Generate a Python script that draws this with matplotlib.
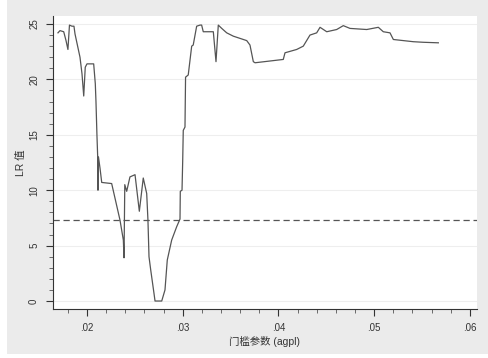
import matplotlib
matplotlib.use("Agg")
import matplotlib.pyplot as plt
from matplotlib.patches import Rectangle
from matplotlib.ticker import MultipleLocator, FixedLocator

plt.rcParams['font.family'] = ['Liberation Sans', 'Noto Sans CJK SC', 'DejaVu Sans']

# threshold parameter values and LR statistics
threshold = [0.01697, 0.01718, 0.01757, 0.01781, 0.01801, 0.01817, 0.01843, 0.01864, 0.01875,
             0.01927, 0.01948, 0.01966, 0.01982, 0.02000, 0.02070, 0.02087, 0.02094, 0.02104,
             0.02112, 0.02115, 0.02120, 0.02136, 0.02154, 0.02258, 0.02345, 0.02380, 0.02387,
             0.02395, 0.02415, 0.02449, 0.02502, 0.02547, 0.02588, 0.02624, 0.02637, 0.02648,
             0.02666, 0.02700, 0.02711, 0.02781, 0.02815, 0.02839, 0.02885, 0.02937, 0.02972,
             0.02975, 0.02993, 0.03000, 0.03006, 0.03024, 0.03030, 0.03058, 0.03094, 0.03110,
             0.03146, 0.03181, 0.03198, 0.03215, 0.03320, 0.03348, 0.03372, 0.03408, 0.03460,
             0.03529, 0.03599, 0.03669, 0.03703, 0.03738, 0.03756, 0.04051, 0.04069, 0.04191,
             0.04260, 0.04330, 0.04400, 0.04435, 0.04505, 0.04609, 0.04678, 0.04748, 0.04923,
             0.05044, 0.05096, 0.05166, 0.05201, 0.05410, 0.05511, 0.05671]
lr_stat = [24.2, 24.4, 24.3, 23.5, 22.7, 24.9, 24.8, 24.8, 24.1,
           22.0, 20.5, 18.5, 21.1, 21.4, 21.4, 19.6, 18.0, 15.0,
           13.0, 10.0, 13.0, 12.0, 10.7, 10.6, 7.3, 5.5, 3.9,
           10.5, 9.9, 11.2, 11.4, 8.1, 11.1, 9.7, 7.3, 4.0,
           2.8, 0.7, 0.0, 0.0, 1.0, 3.7, 5.5, 6.7, 7.4,
           9.9, 10.0, 12.6, 15.4, 15.7, 20.2, 20.4, 23.0, 23.1,
           24.8, 24.9, 24.9, 24.3, 24.3, 21.6, 24.9, 24.6, 24.2,
           23.9, 23.7, 23.5, 23.1, 21.6, 21.5, 21.8, 22.4, 22.7,
           23.0, 24.0, 24.2, 24.7, 24.3, 24.5, 24.85, 24.6, 24.5,
           24.7, 24.3, 24.2, 23.6, 23.4, 23.35, 23.3]
critical_value = 7.35
x_ticks = [0.02, 0.03, 0.04, 0.05, 0.06]
x_tick_labels = ['.02', '.03', '.04', '.05', '.06']
y_ticks = [0, 5, 10, 15, 20, 25]

W, H = 489, 358
fig = plt.figure(figsize=(W / 100, H / 100), dpi=100, facecolor='white')
fig.patches.append(Rectangle((7 / W, 4 / H), 1 - 7 / W, 1 - 4 / H, transform=fig.transFigure,
                             facecolor='#ebebeb', edgecolor='none', zorder=-10))

ax = fig.add_axes([53 / W, 1 - 309 / H, (477 - 53) / W, (309 - 16) / H])
ax.set_facecolor('white')

ax.plot(threshold, lr_stat, color='#555555', lw=0.9)
ax.axhline(critical_value, color='#555555', lw=0.9, dashes=(5, 3))

ax.set_xlim(0.01645, 0.06075)
ax.set_ylim(-0.72, 25.72)

ax.xaxis.set_major_locator(FixedLocator(x_ticks))
ax.set_xticklabels(x_tick_labels)
ax.xaxis.set_minor_locator(MultipleLocator(0.002))
ax.yaxis.set_major_locator(FixedLocator(y_ticks))
ax.yaxis.set_minor_locator(MultipleLocator(1))

for lbl in ax.get_yticklabels():
    lbl.set_rotation(90)
    lbl.set_va('center')

ax.tick_params(axis='both', which='major', direction='out', length=5, width=0.8,
               color='#333333', labelsize=7, labelcolor='#333333')
ax.tick_params(axis='both', which='minor', direction='out', length=3, width=0.6, color='#555555')
ax.tick_params(axis='x', pad=5)
ax.tick_params(axis='y', pad=5)

ax.grid(axis='y', which='major', color='#eeeeee', lw=0.8)
ax.set_axisbelow(True)

for s in ['top', 'right']:
    ax.spines[s].set_visible(False)
for s in ['left', 'bottom']:
    ax.spines[s].set_color('#333333')
    ax.spines[s].set_linewidth(0.8)

ax.set_ylabel('LR 值', fontsize=7.5, color='#333333', labelpad=2)
ax.set_xlabel('门槛参数 (agpl)', fontsize=7.5, color='#333333', labelpad=2)

fig.savefig('out.png', dpi=100, facecolor=fig.get_facecolor())
